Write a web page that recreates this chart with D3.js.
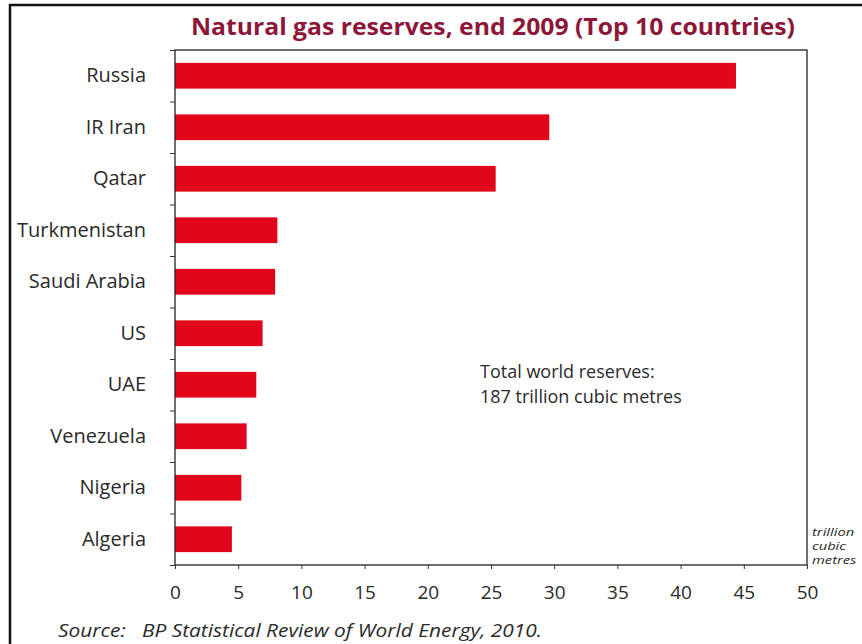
<!DOCTYPE html>
<html>
<head>
<meta charset="utf-8">
<script src="https://cdn.jsdelivr.net/npm/d3@7"></script>
<style>
  html, body { margin: 0; padding: 0; background: #fff; }
  svg { display: block; }
  text { font-family: "Open Sans", "Noto Sans", sans-serif; fill: #2a2a2a; }
</style>
</head>
<body>
<svg id="chart" width="862" height="644"></svg>
<script>
// Natural gas proved reserves at end 2009, trillion cubic metres
const countries = ["Russia", "IR Iran", "Qatar", "Turkmenistan", "Saudi Arabia",
                   "US", "UAE", "Venezuela", "Nigeria", "Algeria"];
const reserves = [44.38, 29.61, 25.37, 8.10, 7.92, 6.93, 6.43, 5.67, 5.25, 4.50];
const xTicks = [0, 5, 10, 15, 20, 25, 30, 35, 40, 45, 50];
const titleText = "Natural gas reserves, end 2009 (Top 10 countries)";
const noteLines = ["Total world reserves:", "187 trillion cubic metres"];
const unitLines = ["trillion", "cubic", "metres"];
const sourceText = "Source:\u00a0\u00a0\u00a0BP Statistical Review of World Energy, 2010.";

const svg = d3.select("#chart");
const plot = { left: 175, right: 807, top: 50, bottom: 565 };

// squeeze or stretch a text element to a given width
function fitWidth(sel, w) {
  sel.each(function () {
    const len = this.getComputedTextLength();
    if (Math.abs(len - w) > 2) {
      d3.select(this).attr("textLength", w).attr("lengthAdjust", "spacingAndGlyphs");
    }
  });
}

// outer frame running off the page to the right and bottom
svg.append("rect")
  .attr("x", 10).attr("y", 5)
  .attr("width", 900).attr("height", 700)
  .attr("fill", "none").attr("stroke", "#111").attr("stroke-width", 2.5);

const x = d3.scaleLinear().domain([0, 50]).range([plot.left, plot.right]);
const y = d3.scaleBand().domain(countries)
  .range([plot.top, plot.bottom]).paddingInner(0.5).paddingOuter(0.25);
const yEdge = d3.scaleLinear().domain([0, countries.length]).range([plot.top, plot.bottom]);

// bars
svg.append("g").selectAll("rect")
  .data(countries.map((c, i) => ({ c, v: reserves[i] })))
  .join("rect")
  .attr("x", x(0))
  .attr("y", d => y(d.c))
  .attr("width", d => x(d.v) - x(0))
  .attr("height", y.bandwidth())
  .attr("fill", "#e2061b");

// plot frame
svg.append("rect")
  .attr("x", plot.left).attr("y", plot.top)
  .attr("width", plot.right - plot.left).attr("height", plot.bottom - plot.top)
  .attr("fill", "none").attr("stroke", "#222").attr("stroke-width", 1.3);

// category labels
const yAxis = svg.append("g")
  .attr("transform", `translate(${plot.left},0)`)
  .call(d3.axisLeft(y).tickSize(0).tickPadding(29));
yAxis.select(".domain").remove();
yAxis.selectAll("text")
  .style("font-size", "20px").style("font-family", "'Open Sans', sans-serif").attr("fill", "#2a2a2a");

// tick marks at band boundaries
const yTicks = svg.append("g")
  .attr("transform", `translate(${plot.left},0)`)
  .call(d3.axisLeft(yEdge).tickValues(d3.range(countries.length + 1)).tickSize(5).tickFormat(""));
yTicks.select(".domain").remove();
yTicks.selectAll("line").attr("stroke", "#333");

// x axis
const xAxis = svg.append("g")
  .attr("transform", `translate(0,${plot.bottom})`)
  .call(d3.axisBottom(x).tickValues(xTicks).tickSize(4).tickPadding(17));
xAxis.select(".domain").remove();
xAxis.selectAll("line").attr("stroke", "#333");
xAxis.selectAll("text")
  .style("font-size", "19px").style("font-family", "'Open Sans', sans-serif").attr("fill", "#2a2a2a");

// title
svg.append("text")
  .attr("x", 493).attr("y", 35)
  .attr("text-anchor", "middle")
  .style("font-size", "24px").style("font-weight", "bold")
  .style("fill", "#8c1738")
  .text(titleText)
  .call(fitWidth, 604);

// note
svg.append("g").selectAll("text")
  .data(noteLines).join("text")
  .attr("x", 480).attr("y", (d, i) => 378 + i * 25)
  .style("font-size", "18px")
  .text(d => d);

// unit label, stacked and slightly widened
svg.append("g").selectAll("text")
  .data(unitLines).join("text")
  .attr("x", 812).attr("y", (d, i) => 536 + i * 14)
  .style("font-size", "10.5px").style("font-style", "italic")
  .text(d => d)
  .each(function () {
    const len = this.getComputedTextLength();
    d3.select(this).attr("textLength", len * 1.4).attr("lengthAdjust", "spacingAndGlyphs");
  });

// source
svg.append("text")
  .attr("x", 58).attr("y", 637)
  .style("font-size", "19px").style("font-style", "italic")
  .text(sourceText)
  .call(fitWidth, 484);
</script>
</body>
</html>
